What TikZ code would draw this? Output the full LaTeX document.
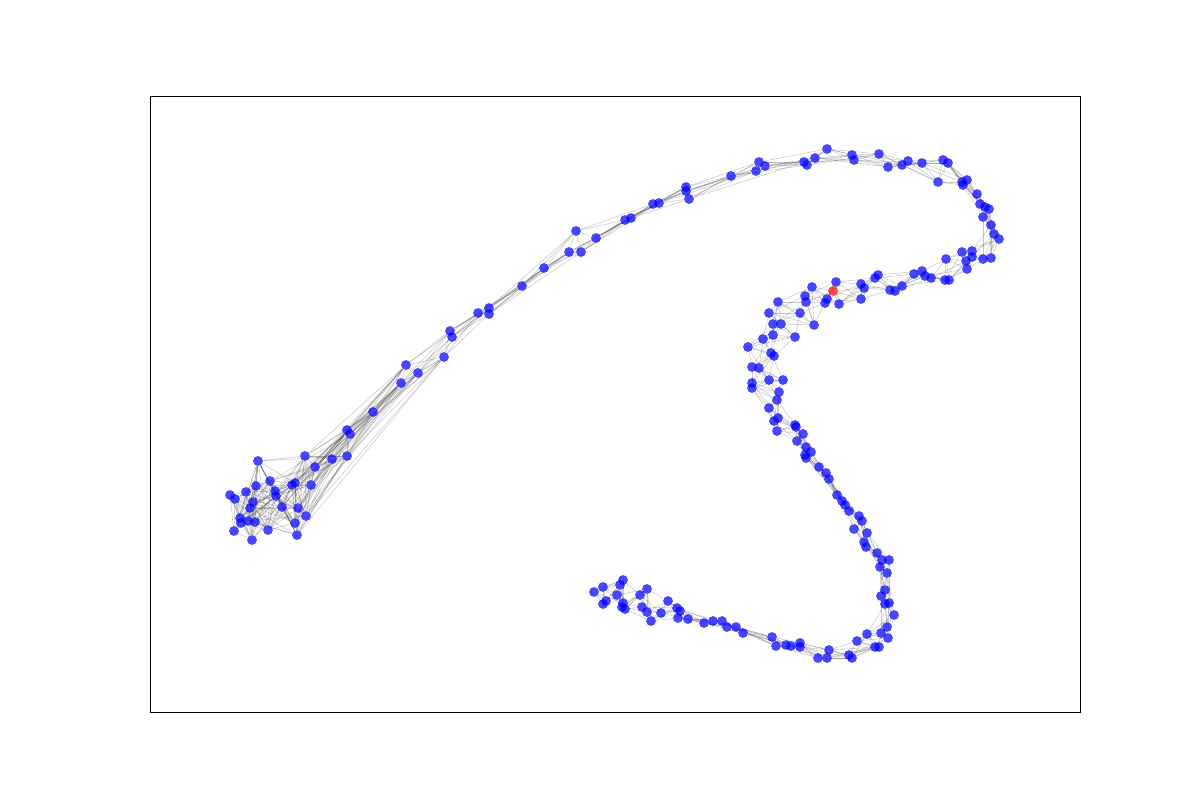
\documentclass[tikz,border=0pt]{standalone}
\usepackage{tikz}
\usetikzlibrary{backgrounds}

\begin{document}
\begin{tikzpicture}[
  x=0.02cm, y=-0.02cm,
  vertex/.style={circle,draw=none,fill opacity=0.72,inner sep=0pt,minimum size=5.6pt},
  link/.style={draw=black,opacity=0.22,line width=0.3pt},
  frame/.style={draw=black,line width=0.5pt},
]
  \useasboundingbox (0,0) rectangle (1200,800);

  % Axes frame
  \draw[frame] (150,96) rectangle (1080,712);

  % Vertices along the chain (index 108 is the highlighted one)
  \foreach [count=\i] \p in {
    (234,531),(230,495),(235,499),(240,518),(241,523),(252,540),(246,492),(248,521),
    (255,522),(253,502),(250,508),(256,486),(258,461),(268,530),(270,481),(275,491),
    (276,496),(282,507),(295,523),(297,535),(292,485),(295,483),(298,508),(306,516),
    (305,456),(311,485),(315,467),(332,459),(347,456),(347,430),(350,434),
    (373,412),(401,383),(406,365),(418,373),(444,357),(450,331),(452,337),(478,313),
    (489,308),(489,314),(522,286),(544,268),(569,252),(576,231),(581,252),(596,238),
    (625,220),(631,218),(653,204),(659,203),(686,187),(686,191),(689,199),(731,176),
    (756,171),(759,162),(765,166),(804,162),(807,165),(815,158),(827,149),(852,155),
    (854,160),(879,154),(888,167),(902,165),(908,161),(922,163),(938,182),(943,160),
    (948,163),(962,182),(967,180),(963,185),(977,194),(980,204),(985,207),(989,209),
    (983,217),(991,225),(994,234),(999,239),(991,258),(983,259),(972,251),(972,257),
    (962,252),(966,261),(967,269),(946,259),(949,280),(945,280),(931,278),(925,276),
    (922,271),(914,274),(902,286),(895,291),(890,290),(878,275),(875,278),(864,288),
    (861,284),(861,299),(839,304),(836,282),(833,291),(827,299),(825,303),(812,287),
    (805,296),(806,302),(814,325),(800,313),(778,302),(769,313),(773,324),(781,324),
    (795,337),(773,335),(763,339),(748,347),(771,353),(774,356),(752,367),(759,368),
    (769,380),(783,380),(752,383),(752,388),(779,392),(777,400),(769,408),(778,418),
    (774,421),(777,431),(795,425),(796,427),(803,434),(797,441),(806,447),(811,452),
    (805,455),(806,458),(819,467),(826,473),(829,479),(837,495),(842,501),(845,505),
    (849,511),(859,516),(862,521),(854,529),(867,533),(864,542),(866,547),(877,553),
    (882,560),(889,560),(880,567),(887,573),(885,590),(881,596),(889,603),(885,604),
    (894,615),(887,627),(881,633),(888,638),(867,634),(857,641),(875,647),(879,647),
    (849,655),(852,658),(829,650),(827,658),(818,658),(800,643),(800,647),(791,646),
    (786,645),(776,646),(772,637),(743,633),(736,627),(727,627),(722,621),(713,621),
    (704,623),(688,619),(678,618),(680,611),(677,608),(668,601),(661,613),(651,621),
    (647,612),(642,607),(647,589),(640,595),(625,609),(622,607),(623,603),(617,595),
    (623,580),(620,585),(603,587),(594,592),(606,601),(603,604)} {
    \ifnum\i=108 \def\vcol{red}\else\def\vcol{blue}\fi
    \node[vertex,fill=\vcol] (n\i) at \p {};
  }

  \begin{pgfonlayer}{background}
    % Links between neighbours on the chain
    \foreach \i in {1,...,212} {
      \foreach \d in {1,2,3,5} {
        \pgfmathtruncatemacro\j{\i+\d}
        \ifnum\j<214
          \draw[link] (n\i) -- (n\j);
        \fi
      }
    }
    % Extra links inside the dense cluster
    \foreach \i in {1,...,31} {
      \foreach \d in {4,7,9,12,16} {
        \pgfmathtruncatemacro\j{\i+\d}
        \ifnum\j<37
          \draw[link] (n\i) -- (n\j);
        \fi
      }
    }
  \end{pgfonlayer}
\end{tikzpicture}
\end{document}
